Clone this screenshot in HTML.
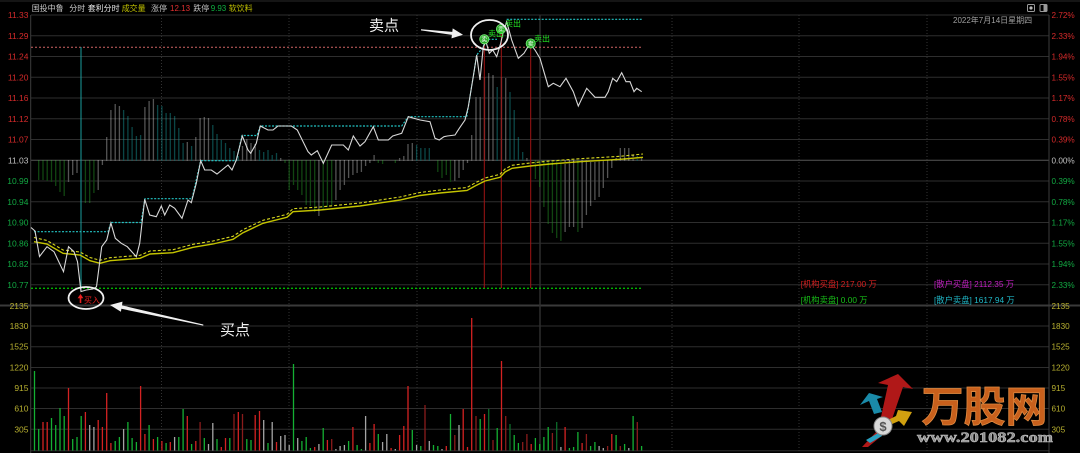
<!DOCTYPE html>
<html><head><meta charset="utf-8"><style>
html,body{margin:0;padding:0;background:#000;}
svg{display:block;}
text{font-family:"Liberation Sans","Noto Sans CJK SC",sans-serif;}
</style></head><body>
<svg width="1080" height="453" viewBox="0 0 1080 453" xmlns="http://www.w3.org/2000/svg">
<rect width="1080" height="453" fill="#000"/>
<!-- top line -->
<line x1="0" y1="1" x2="1080" y2="1" stroke="#2a2a2a" stroke-width="1"/>
<!-- horizontal grid price -->
<g stroke="#2e2e2e" stroke-width="1">
<line x1="31" y1="15" x2="1049" y2="15"/>
<line x1="31" y1="35.75" x2="1049" y2="35.75"/>
<line x1="31" y1="56.5" x2="1049" y2="56.5"/>
<line x1="31" y1="77.25" x2="1049" y2="77.25"/>
<line x1="31" y1="98" x2="1049" y2="98"/>
<line x1="31" y1="118.75" x2="1049" y2="118.75"/>
<line x1="31" y1="139.5" x2="1049" y2="139.5"/>
<line x1="31" y1="181" x2="1049" y2="181"/>
<line x1="31" y1="201.75" x2="1049" y2="201.75"/>
<line x1="31" y1="222.5" x2="1049" y2="222.5"/>
<line x1="31" y1="243.25" x2="1049" y2="243.25"/>
<line x1="31" y1="264" x2="1049" y2="264"/>
<line x1="31" y1="284.75" x2="1049" y2="284.75"/>
<line x1="31" y1="326" x2="1049" y2="326"/>
<line x1="31" y1="346.7" x2="1049" y2="346.7"/>
<line x1="31" y1="367.5" x2="1049" y2="367.5"/>
<line x1="31" y1="388" x2="1049" y2="388"/>
<line x1="31" y1="408.5" x2="1049" y2="408.5"/>
<line x1="31" y1="429.3" x2="1049" y2="429.3"/>
<line x1="31" y1="450.7" x2="1049" y2="450.7"/>
</g>
<line x1="31" y1="160.25" x2="1049" y2="160.25" stroke="#555" stroke-width="1"/>
<line x1="0" y1="305.5" x2="1080" y2="305.5" stroke="#3a3a3a" stroke-width="2"/>
<!-- vertical grid -->
<g stroke="#333" stroke-width="1" stroke-dasharray="1,2">
<line x1="161.5" y1="15" x2="161.5" y2="451"/>
<line x1="289" y1="15" x2="289" y2="451"/>
<line x1="417" y1="15" x2="417" y2="451"/>
<line x1="672" y1="15" x2="672" y2="451"/>
<line x1="799" y1="15" x2="799" y2="451"/>
<line x1="927" y1="15" x2="927" y2="451"/>
</g>
<line x1="540" y1="15" x2="540" y2="451" stroke="#2e2e2e" stroke-width="1.5"/>
<line x1="30.7" y1="15" x2="30.7" y2="453" stroke="#3c3c3c" stroke-width="1"/>
<line x1="1049" y1="15" x2="1049" y2="453" stroke="#3c3c3c" stroke-width="1"/>

<!-- histogram in price panel -->
<g stroke-width="1.3" stroke-dasharray="1,1" fill="none">
<path stroke="#a8a8a8" d="M68.5 160.5V182M72.7 160.5V175M77 160.5V173M98.2 160.5V190M102.4 160.5V165M106.7 160.5V137M110.9 160.5V110M115.2 160.5V104M119.4 160.5V106M144.9 160.5V107M149.1 160.5V101M153.4 160.5V99M187.3 160.5V142M195.8 160.5V137M200.1 160.5V118M204.3 160.5V117M208.5 160.5V118M242.5 160.5V146M246.8 160.5V139M251 160.5V143M255.2 160.5V144M280.7 160.5V158M318.9 160.5V216M335.9 160.5V200M340.1 160.5V190M344.4 160.5V185M348.6 160.5V178M352.9 160.5V175M357.1 160.5V173M361.4 160.5V172M365.6 160.5V166M369.9 160.5V163M374.1 160.5V155M399.6 160.5V158M403.8 160.5V156M408 160.5V144M412.3 160.5V143M454.8 160.5V181M459 160.5V178M463.2 160.5V170M467.5 160.5V163M471.7 160.5V135M476 160.5V97M480.2 160.5V97M484.5 160.5V77M488.7 160.5V73M493 160.5V75M501.5 160.5V77M505.7 160.5V78M526.9 160.5V158M565.1 160.5V232M569.4 160.5V227M573.6 160.5V227M582.1 160.5V228M586.4 160.5V215M590.6 160.5V206M594.9 160.5V200M599.1 160.5V197M603.3 160.5V188M607.6 160.5V178M611.8 160.5V168M616.1 160.5V158M620.3 160.5V148M624.6 160.5V148M628.8 160.5V148M633.1 160.5V155M641.6 160.5V157"/>
<path stroke="#168c8c" d="M123.6 160.5V110M127.9 160.5V116M132.1 160.5V127M136.4 160.5V136M140.6 160.5V135M157.6 160.5V105M161.9 160.5V106M166.1 160.5V113M170.3 160.5V113M174.6 160.5V116M178.8 160.5V128M183.1 160.5V143M191.6 160.5V146M212.8 160.5V125M217 160.5V134M221.3 160.5V140M225.5 160.5V143M229.8 160.5V148M234 160.5V151M238.3 160.5V156M259.5 160.5V150M263.7 160.5V152M268 160.5V150M272.2 160.5V155M276.5 160.5V153M416.6 160.5V145M420.8 160.5V148M425 160.5V148M429.3 160.5V148M497.2 160.5V87M510 160.5V92M514.2 160.5V110M518.4 160.5V137M522.7 160.5V152M637.3 160.5V156"/>
<path stroke="#228a22" d="M38.7 160.5V180M43 160.5V180M47.2 160.5V181M51.5 160.5V182M55.7 160.5V186M60 160.5V192M64.2 160.5V196M85.4 160.5V203M89.7 160.5V203M93.9 160.5V193M285 160.5V163M289.2 160.5V190M293.5 160.5V185M297.7 160.5V190M301.9 160.5V195M306.2 160.5V205M310.4 160.5V206M314.7 160.5V212M323.2 160.5V210M327.4 160.5V207M331.7 160.5V205M378.3 160.5V163M382.6 160.5V164M395.3 160.5V163M437.8 160.5V172M442 160.5V178M446.3 160.5V175M450.5 160.5V182M535.4 160.5V179M539.7 160.5V187M543.9 160.5V207M548.2 160.5V224M552.4 160.5V233M556.7 160.5V238M560.9 160.5V241M577.9 160.5V232"/>
</g>

<!-- reference dashed lines -->
<line x1="31" y1="47.3" x2="642" y2="47.3" stroke="#d06464" stroke-width="1" stroke-dasharray="2,2"/>
<line x1="31" y1="288.3" x2="642" y2="288.3" stroke="#00b400" stroke-width="1.4" stroke-dasharray="2,2"/>
<line x1="81" y1="47" x2="81" y2="291" stroke="#1a9e9e" stroke-width="1"/>
<g stroke="#a01414" stroke-width="1">
<line x1="484.3" y1="40" x2="484.3" y2="288"/>
<line x1="501.3" y1="30" x2="501.3" y2="288"/>
<line x1="530.7" y1="44" x2="530.7" y2="288"/>
</g>

<!-- average lines -->
<polyline fill="none" stroke="#d8d820" stroke-width="1.1" stroke-dasharray="3,2" points="34,237.5 47,240.5 63,250 80,252 90,257.5 100,260.3 110,257.7 140,255.3 150,251 173,249.7 193,244.3 213,241 233,236.3 243,229.7 263,220.3 287,214.3 293,208.7 320,207 345,204.5 360,203 400,197 420,192.5 440,190 467,187.5 475,183 485,178 500,174.3 505,169 512,165.3 530,163 550,161 580,158.7 620,156.3 643,154"/>
<polyline fill="none" stroke="#c4c400" stroke-width="1.4" points="34,241.7 47,244 63,253.3 80,255 90,260.7 100,263.3 110,260.7 140,258.3 150,254 173,252.7 193,247.3 213,244 233,239.3 243,232.7 263,223.3 287,217.3 293,211.7 320,210 345,207.5 360,206 400,200 420,195.5 440,193 467,190.5 475,186 485,181 500,177.3 505,172 512,168.3 530,166 550,164 580,161.7 620,159.3 643,157.3"/>

<!-- cyan step line -->
<polyline fill="none" stroke="#22c4c4" stroke-width="1.2" stroke-dasharray="2,1.5" points="34,231.7 108,231.7 111,222.5 141,222.5 145,198.7 192,198.7 200.7,160.7 236.3,160.7 242,135.5 257,135.5 260.3,126 401.7,126 408.3,116.7 466.7,116.7 472.7,80 476.7,55 483.3,47 485,39.3 497,39.3"/>
<line x1="506.7" y1="19.3" x2="641.7" y2="19.3" stroke="#22c4c4" stroke-width="1.2" stroke-dasharray="2,1.5"/>

<!-- price line -->
<polyline fill="none" stroke="#d8d8d8" stroke-width="1.1" points="31,227.5 35,231 39.5,256.5 47,246.7 54,251.7 63.5,271.7 68.5,246.7 74,251.7 77.5,261.7 81,291.5 86.3,290 93,289 96.5,286.7 101.7,246.7 106.7,240 110.9,223 115.3,238.3 121.3,243.3 127.3,246.7 136.3,256.7 139.7,243.3 144.7,199.3 149.7,215 156.3,216.7 161.3,206 164.7,215 169.7,205 174.7,208.3 182,218.3 188,200 191.3,202.7 196.3,183.3 200.7,160.7 204.7,170 211.3,170 217,174 228,165 232,170 236.3,160 242.3,136 248,150 250.7,153.3 256.3,143.3 260.3,126 268,130 273,130 278,126 291.3,126 297.3,130 308,151.7 311.3,155 317.3,150.7 323.3,163.3 331.7,145 343.3,145 348.3,150 353.3,136 360,146 365,141.7 373.3,126.7 378.3,140 388.3,140 392.7,136 401.7,133.3 408.3,116.7 420,120 430,121.7 435,138.3 439.3,140 444,136.7 447.3,136 455,135 459.3,128.3 465,120 468.3,106.7 472.7,80 476.7,55 480,80 483.3,46.7 486,41.7 489.3,53.3 492.7,50 496.7,56.7 500.7,43.3 503,33 506.7,21.7 511.7,40 518.3,58.3 524,53.3 530,43.3 535,50 540,58.3 548.3,86.7 553.3,83.3 560,86.7 566,78.3 573.3,91.7 578.3,106 586.7,88.3 595,97.3 605,97.3 608.3,91.7 612.7,78.3 616.7,81.7 621.7,72.7 626,81.7 630,81.7 634,91.7 636.7,88.3 641.7,91.7"/>

<!-- sell markers -->
<g>
<circle cx="484.3" cy="39.3" r="4.6" fill="#2aa82a" stroke="#7ef07e" stroke-width="0.8"/>
<circle cx="501" cy="29" r="4.6" fill="#2aa82a" stroke="#7ef07e" stroke-width="0.8"/>
<circle cx="530.7" cy="43.5" r="4.6" fill="#2aa82a" stroke="#7ef07e" stroke-width="0.8"/>
<text x="484.3" y="41.6" font-size="6" fill="#fff" text-anchor="middle">卖</text>
<text x="501" y="31.3" font-size="6" fill="#fff" text-anchor="middle">卖</text>
<text x="530.7" y="45.8" font-size="6" fill="#fff" text-anchor="middle">卖</text>
<text x="488" y="36.3" font-size="8" fill="#22e022">卖出</text>
<text x="505" y="26.3" font-size="8" fill="#22e022">卖出</text>
<text x="534" y="41.3" font-size="8" fill="#22e022">卖出</text>
</g>
<!-- buy marker -->
<polygon points="80.5,294 77.6,298.3 79.7,298.3 79.7,303 81.3,303 81.3,298.3 83.4,298.3" fill="#e82020"/>
<text x="84" y="303" font-size="8" fill="#e82020">买入</text>

<!-- annotations -->
<ellipse cx="489.5" cy="35" rx="18.5" ry="15" fill="none" stroke="#f0f0f0" stroke-width="1.8"/>
<ellipse cx="86" cy="298" rx="17.5" ry="11" fill="none" stroke="#f0f0f0" stroke-width="1.8"/>
<polygon points="421,29.2 452.3,31.9 452.7,28.4 463,34.7 451.5,38.4 451.9,34.9 421,30.4" fill="#f0f0f0"/>
<polygon points="110,305 122.5,301.6 122,305.4 203.3,324.5 203.3,325.6 121.4,308.8 120.9,311.8" fill="#f0f0f0"/>
<text x="369" y="30.5" font-size="15" fill="#f0f0f0">卖点</text>
<text x="220" y="335" font-size="15" fill="#f0f0f0">买点</text>

<!-- volume bars -->
<g stroke-width="1.3" fill="none">
<path stroke="#d42222" d="M43 450.5V422M47.2 450.5V422M68.5 450.5V388M85.4 450.5V412M98.2 450.5V420M102.4 450.5V427M106.7 450.5V393M110.9 450.5V443M140.6 450.5V386M144.9 450.5V434M153.4 450.5V439M161.9 450.5V441M170.3 450.5V442M187.3 450.5V416M195.8 450.5V441M221.3 450.5V447M225.5 450.5V438M238.3 450.5V412M255.2 450.5V415M259.5 450.5V411M276.5 450.5V442M314.7 450.5V447M327.4 450.5V440M352.9 450.5V427M369.9 450.5V443M374.1 450.5V424M391.1 450.5V448M399.6 450.5V435M403.8 450.5V426M408 450.5V386M446.3 450.5V446M463.2 450.5V409M467.5 450.5V447M471.7 450.5V318M484.5 450.5V414M501.5 450.5V361M531.2 450.5V444M565.1 450.5V427M582.1 450.5V443M611.8 450.5V434"/>
<path stroke="#8a1c1c" d="M200.1 450.5V422M234 450.5V414M242.5 450.5V414M331.7 450.5V439M425 450.5V405M454.8 450.5V435M476 450.5V416M493 450.5V440M505.7 450.5V416M522.7 450.5V442M526.9 450.5V434M552.4 450.5V433M586.4 450.5V434M607.6 450.5V446M620.3 450.5V446M637.3 450.5V422"/>
<path stroke="#14b032" d="M34.5 450.5V371M38.7 450.5V429M51.5 450.5V418M55.7 450.5V425M60 450.5V408M64.2 450.5V416M72.7 450.5V439M77 450.5V437M81.2 450.5V416M115.2 450.5V441M119.4 450.5V437M127.9 450.5V422M132.1 450.5V438M136.4 450.5V442M149.1 450.5V425M157.6 450.5V437M166.1 450.5V443M178.8 450.5V437M183.1 450.5V409M191.6 450.5V444M204.3 450.5V438M217 450.5V439M229.8 450.5V438M246.8 450.5V439M251 450.5V440M268 450.5V443M293.5 450.5V364M301.9 450.5V441M306.2 450.5V437M310.4 450.5V448M323.2 450.5V428M348.6 450.5V441M357.1 450.5V445M361.4 450.5V449M378.3 450.5V434M412.3 450.5V430M420.8 450.5V446M433.5 450.5V445M437.8 450.5V446M450.5 450.5V414M480.2 450.5V419M497.2 450.5V428M514.2 450.5V435M518.4 450.5V443M535.4 450.5V438M539.7 450.5V444M543.9 450.5V437M548.2 450.5V427M569.4 450.5V448M573.6 450.5V447M577.9 450.5V432M590.6 450.5V446M594.9 450.5V442M616.1 450.5V435M624.6 450.5V444M633.1 450.5V416M641.6 450.5V446"/>
<path stroke="#0c6c2a" d="M488.7 450.5V409M510 450.5V424M556.7 450.5V422"/>
<path stroke="#a4a4a4" d="M89.7 450.5V425M93.9 450.5V427M123.6 450.5V429M174.6 450.5V437M208.5 450.5V444M212.8 450.5V423M263.7 450.5V420M272.2 450.5V422M280.7 450.5V436M285 450.5V435M289.2 450.5V445M297.7 450.5V438M318.9 450.5V444M335.9 450.5V449M340.1 450.5V446M344.4 450.5V445M365.6 450.5V416M382.6 450.5V442M386.8 450.5V434M395.3 450.5V449M416.6 450.5V445M429.3 450.5V441M442 450.5V449M459 450.5V425M560.9 450.5V447M599.1 450.5V446M603.3 450.5V448M628.8 450.5V448"/>
</g>

<!-- watermark logo -->
<g>
<polygon points="898,374 913,389 903,387 889,428 879,426 888,385 878,383" fill="#b01818"/>
<polygon points="862,447 878,430 884,434 868,447" fill="#b01818"/>
<polygon points="860,405 869,393 883,397 877,399 882,412 874,414 869,401" fill="#1a8aa8"/>
<polygon points="912,412 898,410 896,416 880,424 883,428 899,421 904,426" fill="#d0a010"/>
<polygon points="866,440 880,432 882,436 870,443" fill="#2aa0c0"/>
<circle cx="883" cy="426" r="9" fill="#d8d8d8" stroke="#888" stroke-width="1"/>
<text x="883" y="431" font-size="13" font-weight="bold" fill="#555" text-anchor="middle" font-family="Liberation Serif, serif">$</text>
<text x="921.5" y="421.5" font-size="42" font-weight="bold" fill="#c8601c" stroke="#e08a40" stroke-width="0.8" textLength="126" lengthAdjust="spacingAndGlyphs" style="font-family:'Liberation Sans','Noto Sans CJK SC',sans-serif">万股网</text>
<text x="917" y="442" font-size="14.5" font-weight="bold" fill="#8c8c8c" stroke="#c8c8c8" stroke-width="0.5" textLength="136" lengthAdjust="spacingAndGlyphs" style="font-family:'Liberation Serif',serif">www.201082.com</text>
</g>

<!-- header -->
<g font-size="8">
<text x="31.7" y="11" fill="#c8c8c8">国投中鲁</text>
<text x="69.3" y="11" fill="#c8c8c8">分时</text>
<text x="87.7" y="11" fill="#e6e6e6">套利分时</text>
<text x="121.7" y="11" fill="#c0c000">成交量</text>
<text x="151" y="11" fill="#c0c0c0">涨停</text>
<text x="170" y="11" fill="#e03030">12.13</text>
<text x="193.3" y="11" fill="#c0c0c0">跌停</text>
<text x="210.7" y="11" fill="#10b040">9.93</text>
<text x="228.7" y="11" fill="#c0c000">软饮料</text>
<text x="953" y="23" fill="#a0a0a0">2022年7月14日星期四</text>
</g>
<!-- top-right icons -->
<rect x="1027.5" y="4.5" width="7" height="7" fill="none" stroke="#999" stroke-width="1" rx="1"/>
<circle cx="1031" cy="8" r="1.6" fill="#bbb"/>
<rect x="1040" y="4.5" width="7" height="7" fill="none" stroke="#999" stroke-width="1" rx="1"/>
<rect x="1043.5" y="5" width="3" height="6" fill="#999"/>

<!-- left axis labels -->
<g font-size="8.5" text-anchor="end">
<text x="28.5" y="18" fill="#d42a2a">11.33</text>
<text x="28.5" y="38.8" fill="#d42a2a">11.29</text>
<text x="28.5" y="59.5" fill="#d42a2a">11.24</text>
<text x="28.5" y="80.3" fill="#d42a2a">11.20</text>
<text x="28.5" y="101" fill="#d42a2a">11.16</text>
<text x="28.5" y="121.8" fill="#d42a2a">11.12</text>
<text x="28.5" y="142.5" fill="#d42a2a">11.07</text>
<text x="28.5" y="163.3" fill="#c0c0c0">11.03</text>
<text x="28.5" y="184" fill="#12a842">10.99</text>
<text x="28.5" y="204.8" fill="#12a842">10.94</text>
<text x="28.5" y="225.5" fill="#12a842">10.90</text>
<text x="28.5" y="246.3" fill="#12a842">10.86</text>
<text x="28.5" y="267" fill="#12a842">10.82</text>
<text x="28.5" y="287.8" fill="#12a842">10.77</text>
<text x="28.5" y="309" fill="#b8b030">2135</text>
<text x="28.5" y="329" fill="#b8b030">1830</text>
<text x="28.5" y="349.7" fill="#b8b030">1525</text>
<text x="28.5" y="370.5" fill="#b8b030">1220</text>
<text x="28.5" y="391" fill="#b8b030">915</text>
<text x="28.5" y="411.5" fill="#b8b030">610</text>
<text x="28.5" y="432.3" fill="#b8b030">305</text>
</g>
<!-- right axis labels -->
<g font-size="8.2">
<text x="1051.5" y="18" fill="#d42a2a">2.72%</text>
<text x="1051.5" y="38.8" fill="#d42a2a">2.33%</text>
<text x="1051.5" y="59.5" fill="#d42a2a">1.94%</text>
<text x="1051.5" y="80.3" fill="#d42a2a">1.55%</text>
<text x="1051.5" y="101" fill="#d42a2a">1.17%</text>
<text x="1051.5" y="121.8" fill="#d42a2a">0.78%</text>
<text x="1051.5" y="142.5" fill="#d42a2a">0.39%</text>
<text x="1051.5" y="163.3" fill="#c0c0c0">0.00%</text>
<text x="1051.5" y="184" fill="#12a842">0.39%</text>
<text x="1051.5" y="204.8" fill="#12a842">0.78%</text>
<text x="1051.5" y="225.5" fill="#12a842">1.17%</text>
<text x="1051.5" y="246.3" fill="#12a842">1.55%</text>
<text x="1051.5" y="267" fill="#12a842">1.94%</text>
<text x="1051.5" y="287.8" fill="#12a842">2.33%</text>
<text x="1051.5" y="309" fill="#b8b030">2135</text>
<text x="1051.5" y="329" fill="#b8b030">1830</text>
<text x="1051.5" y="349.7" fill="#b8b030">1525</text>
<text x="1051.5" y="370.5" fill="#b8b030">1220</text>
<text x="1051.5" y="391" fill="#b8b030">915</text>
<text x="1051.5" y="411.5" fill="#b8b030">610</text>
<text x="1051.5" y="432.3" fill="#b8b030">305</text>
</g>
<!-- legend -->
<g font-size="8.3">
<text x="800.7" y="287" fill="#d42020">[机构买盘] 217.00 万</text>
<text x="800.7" y="303" fill="#18c018">[机构卖盘] 0.00 万</text>
<text x="934" y="287" fill="#c020c0">[散户买盘] 2112.35 万</text>
<text x="934" y="303" fill="#20b8c8">[散户卖盘] 1617.94 万</text>
</g>
</svg>
</body></html>
